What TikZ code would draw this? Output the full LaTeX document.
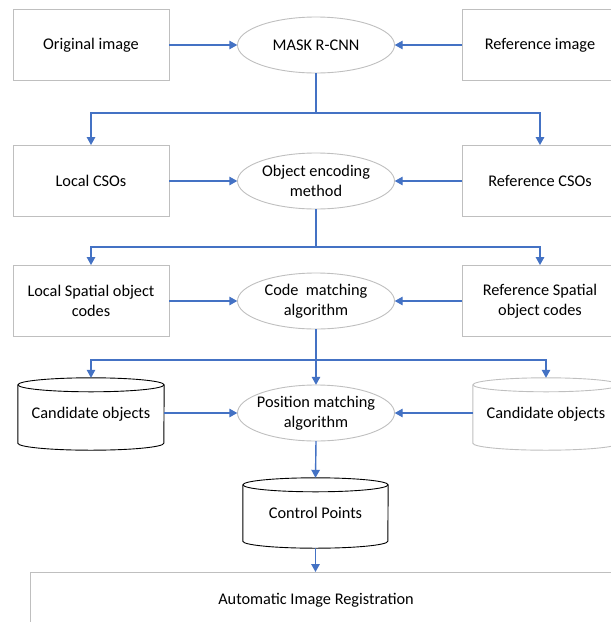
\documentclass[tikz,border=0pt]{standalone}
\usepackage{fontspec}
\setmainfont{Carlito}
\usetikzlibrary{shapes.geometric,arrows.meta}
\definecolor{flowblue}{HTML}{4472C4}
\definecolor{boxgray}{HTML}{BFBFBF}
\tikzset{
  txt/.style={font=\fontsize{16.3}{19.5}\selectfont, align=center, text=black},
  box/.style={txt, draw=boxgray, line width=0.9pt, rectangle, minimum width=156pt, minimum height=71pt, inner sep=0pt},
  oval/.style={txt, draw=none, rectangle, minimum width=157pt, minimum height=56pt, inner sep=0pt},
  ovalline/.style={draw=boxgray, line width=0.9pt},
  cylbox/.style={txt, draw=none, rectangle, minimum width=146pt, minimum height=72pt, inner sep=0pt},
  flow/.style={draw=flowblue, line width=1.4pt},
  arr/.style={flow, -{Triangle[length=8pt,width=8.5pt]}}
}
\newcommand\drawcylinder[3]{%
  \draw[#2, line width=0.9pt] ([yshift=-7pt]#1.north west) -- ([yshift=7pt]#1.south west)
    arc[start angle=180, end angle=360, x radius=#3, y radius=7pt]
    -- ([yshift=-7pt]#1.north east);
  \draw[#2, line width=0.9pt] ([yshift=-7pt]#1.north) ellipse[x radius=#3, y radius=7pt];
}
\newcommand\drawoval[1]{%
  \draw[ovalline] (#1.center) ellipse[x radius=78.5pt, y radius=28pt];
}
\begin{document}
\begin{tikzpicture}[x=1pt,y=-1pt]
\useasboundingbox (0,0) rectangle (611,622);
\clip (0,0) rectangle (611,622);
% row 1
\node[box] (orig) at (91,45) {Original image};
\node[oval] (mask) at (316,45) {MASK R-CNN};
\drawoval{mask}
\node[box] (refimg) at (540,45) {Reference image};
% row 2
\node[box] (lcso) at (91,181) {Local CSOs};
\node[oval] (enc) at (316,181) {Object encoding\\method};
\drawoval{enc}
\node[box] (rcso) at (540,181) {Reference CSOs};
% row 3
\node[box] (lcode) at (91,301) {Local Spatial object\\codes};
\node[oval] (code) at (316,301) {Code~~matching\\algorithm};
\drawoval{code}
\node[box] (rcode) at (540,301) {Reference Spatial\\object codes};
% row 4
\node[cylbox] (cand1) at (91,414) {Candidate objects};
\drawcylinder{cand1}{black}{73pt}
\node[oval] (pos) at (316,413) {Position matching\\algorithm};
\drawoval{pos}
\node[cylbox] (cand2) at (546,414) {Candidate objects};
\drawcylinder{cand2}{boxgray}{73pt}
% control points
\node[cylbox, minimum width=145pt, minimum height=70pt] (cp) at (315.5,513) {Control Points};
\drawcylinder{cp}{black}{72.5pt}
% registration
\node[box, minimum width=600pt, minimum height=70pt, anchor=north west] (regbox) at (30,572) {};
\node[txt] (reg) at (316,600) {Automatic Image Registration};
% junctions
\coordinate (j1) at (316,113);
\coordinate (j2) at (316,247);
\coordinate (j3) at (316,360);
% connectors
\draw[arr] (orig.east) -- (mask.west);
\draw[arr] (refimg.west) -- (mask.east);
\draw[flow] (mask.south) -- (j1);
\draw[arr] (j1) -| (lcso.north);
\draw[arr] (j1) -| (rcso.north);
\draw[arr] (lcso.east) -- (enc.west);
\draw[arr] (rcso.west) -- (enc.east);
\draw[flow] (enc.south) -- (j2);
\draw[arr] (j2) -| (lcode.north);
\draw[arr] (j2) -| (rcode.north);
\draw[arr] (lcode.east) -- (code.west);
\draw[arr] (rcode.west) -- (code.east);
\draw[arr] (code.south) -- (pos.north);
\draw[arr] (j3) -| (cand1.north);
\draw[arr] (j3) -| (cand2.north);
\draw[arr] (cand1.east |- pos.west) -- (pos.west);
\draw[arr] (cand2.west |- pos.east) -- (pos.east);
\draw[arr] (pos.south) -- (cp.north);
\draw[arr] (cp.south) -- (cp.south |- regbox.north);
\end{tikzpicture}
\end{document}
